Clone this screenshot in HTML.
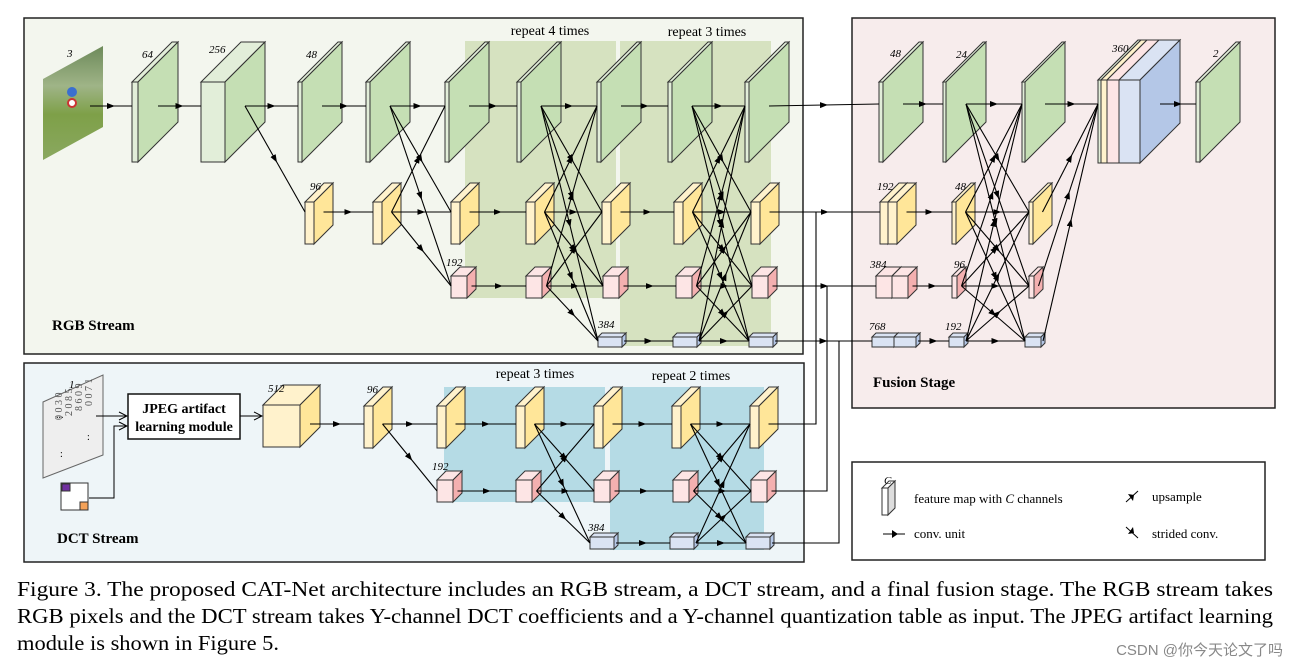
<!DOCTYPE html>
<html><head><meta charset="utf-8"><style>
html,body{margin:0;padding:0;background:#fff;width:1299px;height:669px;overflow:hidden}
svg{display:block}
text{font-family:"Liberation Serif",serif}
.it{font-style:italic;font-size:11px}
.bd{font-weight:bold;font-size:15px}
</style></head><body>
<svg id="s" width="1299" height="669" viewBox="0 0 1299 669" xmlns="http://www.w3.org/2000/svg">
<defs>
<marker id="ar" markerWidth="8" markerHeight="8" refX="4" refY="4" orient="auto" markerUnits="userSpaceOnUse"><path d="M0,1 L8,4 L0,7 z" fill="#000"/></marker>
<marker id="oa" markerWidth="10" markerHeight="10" refX="9" refY="5" orient="auto" markerUnits="userSpaceOnUse"><path d="M1,1 L9,5 L1,9" fill="none" stroke="#000" stroke-width="1"/></marker>
<linearGradient id="img" x1="0" y1="0" x2="0" y2="1"><stop offset="0" stop-color="#6d8a5a"/><stop offset="0.35" stop-color="#9fb487"/><stop offset="0.6" stop-color="#7ea048"/><stop offset="1" stop-color="#8aa860"/></linearGradient>
</defs>
<rect x="24" y="18" width="779" height="336" fill="#f3f6ee" stroke="#222" stroke-width="1.5"/>
<rect x="24" y="363" width="780" height="199" fill="#eef5f8" stroke="#222" stroke-width="1.5"/>
<rect x="852" y="18" width="423" height="390" fill="#f7ecec" stroke="#222" stroke-width="1.5"/>
<rect x="852" y="462" width="413" height="98" fill="#fff" stroke="#222" stroke-width="1.5"/>
<rect x="465" y="41" width="151" height="257" fill="#d6e2c0"/>
<rect x="620" y="41" width="151" height="305" fill="#d6e2c0"/>
<rect x="444" y="387" width="161" height="115" fill="#b5dbe5"/>
<rect x="610" y="387" width="154" height="163" fill="#b5dbe5"/>
<g id="g"></g>
<text x="550" y="35" font-size="14" text-anchor="middle">repeat 4 times</text>
<text x="707" y="36" font-size="14" text-anchor="middle">repeat 3 times</text>
<text x="535" y="378" font-size="14" text-anchor="middle">repeat 3 times</text>
<text x="691" y="380" font-size="14" text-anchor="middle">repeat 2 times</text>
<text x="52" y="330" class="bd">RGB Stream</text>
<text x="57" y="543" class="bd">DCT Stream</text>
<text x="873" y="387" class="bd">Fusion Stage</text>
<polygon points="882,488 889,481 895,481 888,488" fill="#fff" stroke="#333"/>
<polygon points="888,488 895,481 895,508 888,515" fill="#ddd" stroke="#333"/>
<rect x="882" y="488" width="6" height="27" fill="#fff" stroke="#333"/>
<text x="884" y="484" class="it">C</text>
<text x="914" y="503" font-size="13">feature map with <tspan font-style="italic">C</tspan> channels</text>
<line x1="883" y1="534" x2="905" y2="534" stroke="#000"/><path d="M892,530 L898,534 L892,538z"/>
<text x="914" y="538" font-size="13">conv. unit</text>
<line x1="1126" y1="502" x2="1138" y2="491" stroke="#000"/><path d="M1128,494 L1134,495 L1133,501z"/>
<text x="1152" y="501" font-size="13">upsample</text>
<line x1="1126" y1="527" x2="1138" y2="538" stroke="#000"/><path d="M1128,534 L1134,533 L1133,527z"/>
<text x="1152" y="538" font-size="13">strided conv.</text>
<text x="17" y="596" font-size="21" textLength="1256" lengthAdjust="spacingAndGlyphs">Figure 3. The proposed CAT-Net architecture includes an RGB stream, a DCT stream, and a final fusion stage.  The RGB stream takes</text>
<text x="17" y="623" font-size="21" textLength="1256" lengthAdjust="spacingAndGlyphs">RGB pixels and the DCT stream takes Y-channel DCT coefficients and a Y-channel quantization table as input. The JPEG artifact learning</text>
<text x="17" y="650" font-size="21" textLength="262" lengthAdjust="spacingAndGlyphs">module is shown in Figure 5.</text>
<text x="1283" y="655" font-size="15" fill="#888" text-anchor="end" style="font-family:'Liberation Sans','Noto Sans CJK SC',sans-serif">CSDN @你今天论文了吗</text>
</svg>
<script>
var NS="http://www.w3.org/2000/svg",G=document.getElementById("g");
function el(t,a,p){var e=document.createElementNS(NS,t);for(var k in a)e.setAttribute(k,a[k]);(p||G).appendChild(e);return e;}
var C={g:["#e2eed9","#c5dfb4"],y:["#fff2cc","#ffe699"],p:["#fde5e5","#f4b0b0"],b:["#dae3f3","#b4c7e7"]};
var B=el("g",{}),L=el("g",{});
function blk(x,y,w,h,d,c,par){par=par||B;var f=C[c];
 el("polygon",{points:[x,y,x+d,y-d,x+w+d,y-d,x+w,y].join(","),fill:f[0],stroke:"#333","stroke-width":1},par);
 el("polygon",{points:[x+w,y,x+w+d,y-d,x+w+d,y+h-d,x+w,y+h].join(","),fill:f[1],stroke:"#333","stroke-width":1},par);
 el("rect",{x:x,y:y,width:w,height:h,fill:f[0],stroke:"#333","stroke-width":1},par);}
var RY={g:106,y:212,p:286,b:341,dy:424,dp:491,db:543,fg:104};
function N(x,y,w,h,d,c,ry){blk(x,y,w,h,d,c);return {x:x,w:w,d:d,ry:ry};}
var gr=function(x,w){return N(x,82,w||4,80,40,"g",RY.g);};
var ye=function(x,w){return N(x,202,w||9,42,19,"y",RY.y);};
var pk=function(x,w){return N(x,276,w||16,22,9,"p",RY.p);};
var bl=function(x,w){return N(x,337,w||24,10,4,"b",RY.b);};
function line(x1,y1,x2,y2){el("path",{d:"M"+x1+","+y1+" L"+((x1+x2)/2)+","+((y1+y2)/2)+" L"+x2+","+y2,fill:"none",stroke:"#000","stroke-width":1.1,"marker-mid":"url(#ar)"},L);}
function E(a,b){line(a.x+a.w+a.d/2,a.ry,b.x,b.ry);}
function X(A,Bs){A.forEach(function(a){Bs.forEach(function(b){E(a,b);});});}
el("polygon",{points:"43,160 43,79 103,46 103,127",fill:"url(#img)"},B);
el("circle",{cx:72,cy:92,r:5,fill:"#3a6fd0"},B);el("circle",{cx:72,cy:103,r:4,fill:"#fff",stroke:"#c33","stroke-width":2},B);
var img={x:90,w:0,d:0,ry:106};
var G0=gr(132,6),G1=N(201,82,24,80,40,"g",RY.g),G2=gr(298),G3=gr(366),G4=gr(445),G5=gr(517),G6=gr(597),G7=gr(668),G8=gr(745);
var Y0=ye(305),Y1=ye(373),Y2=ye(451),Y3=ye(526),Y4=ye(602),Y5=ye(674),Y6=ye(751);
var P0=pk(451),P1=pk(526),P2=pk(603),P3=pk(676),P4=pk(752);
var B0=bl(598),B1=bl(673),B2=bl(749);
[[img,G0],[G0,G1],[G1,G2],[G1,Y0],[G2,G3],[Y0,Y1],[G4,G5],[Y2,Y3],[P0,P1],[G6,G7],[Y4,Y5],[P2,P3],[B0,B1]].forEach(function(p){E(p[0],p[1]);});
X([G3,Y1],[G4,Y2,P0]);X([G5,Y3,P1],[G6,Y4,P2,B0]);X([G7,Y5,P3,B1],[G8,Y6,P4,B2]);
var F0=N(879,82,4,80,40,"g",RY.fg),F1=N(943,82,3,80,40,"g",RY.fg),F2=N(1022,82,3,80,40,"g",RY.fg);
blk(880,202,8,42,19,"y");var FY0=N(888,202,9,42,19,"y",RY.y);FY0.x=880;FY0.w=17;
var FY1=N(952,202,4,42,19,"y",RY.y),FY2=N(1029,202,4,42,19,"y",RY.y);
blk(876,276,16,22,9,"p");var FP0=N(892,276,16,22,9,"p",RY.p);FP0.x=876;FP0.w=32;
var FP1=N(952,276,5,22,9,"p",RY.p),FP2=N(1029,276,5,22,9,"p",RY.p);
blk(872,337,22,10,4,"b");var FB0=N(894,337,22,10,4,"b",RY.b);FB0.x=872;FB0.w=44;
var FB1=N(949,337,15,10,4,"b",RY.b),FB2=N(1025,337,16,10,4,"b",RY.b);
(function(){var x=1098,y=80,h=83,d=40;
 var parts=[[3,"g"],[6,"y"],[12,"p"],[21,"b"]];
 el("polygon",{points:[x,y,x+d,y-d,x+42+d,y-d,x+42,y].join(","),fill:"#e8edf8",stroke:"#333"},B);
 var cx=x;parts.forEach(function(p){el("polygon",{points:[cx,y,cx+d,y-d,cx+p[0]+d,y-d,cx+p[0],y].join(","),fill:C[p[1]][0],stroke:"#333"},B);cx+=p[0];});
 el("polygon",{points:[x+42,y,x+42+d,y-d,x+42+d,y+h-d,x+42,y+h].join(","),fill:"#b4c7e7",stroke:"#333"},B);
 cx=x;parts.forEach(function(p){el("rect",{x:cx,y:y,width:p[0],height:h,fill:C[p[1]][0],stroke:"#333"},B);cx+=p[0];});})();
var CC={x:1098,w:0,d:0,ry:104},CO={x:1140,w:0,d:40,ry:104};
var F3=N(1196,82,4,80,40,"g",RY.fg);
E(G8,F0);E(Y6,FY0);E(P4,FP0);E(B2,FB0);
E(F0,F1);E(FY0,FY1);E(FP0,FP1);E(FB0,FB1);
X([F1,FY1,FP1,FB1],[F2,FY2,FP2,FB2]);X([F2,FY2,FP2,FB2],[CC]);E(CO,F3);
el("polygon",{points:"43,478 43,402 103,375 103,455",fill:"#eee",stroke:"#666"},B);
var dt=el("text",{x:0,y:0,"font-size":"10",fill:"#555",transform:"translate(62,420) rotate(-90)"},B);dt.textContent="0 0 3 0";
["2 0 8 5","8 6 0 9","0 0 7 1"].forEach(function(s,i){var t=el("text",{x:0,y:0,"font-size":"10",fill:"#555",transform:"translate("+(72+i*10)+","+(416-i*5)+") rotate(-90)"},B);t.textContent=s;});
el("text",{x:56,y:418,"font-size":"10"},B).textContent="...";
el("text",{x:87,y:440,"font-size":"10"},B).textContent=":";
el("text",{x:60,y:457,"font-size":"10"},B).textContent=":";
el("rect",{x:61,y:483,width:27,height:27,fill:"#fff",stroke:"#333"},B);
el("rect",{x:62,y:484,width:8,height:7,fill:"#7030a0",stroke:"#333"},B);
el("rect",{x:80,y:502,width:8,height:8,fill:"#f4a259",stroke:"#333"},B);
el("rect",{x:128,y:394,width:112,height:45,fill:"#fff",stroke:"#111","stroke-width":1.5},B);
var t1=el("text",{x:184,y:413,"font-size":"14","font-weight":"bold","text-anchor":"middle"},B);t1.textContent="JPEG artifact";
var t2=el("text",{x:184,y:431,"font-size":"14","font-weight":"bold","text-anchor":"middle"},B);t2.textContent="learning module";
el("path",{d:"M96,416 L127,416",stroke:"#000",fill:"none","marker-end":"url(#oa)"},L);
el("path",{d:"M89,498 L114,498 L114,426 L127,426",stroke:"#000",fill:"none","marker-end":"url(#oa)"},L);
el("path",{d:"M240,416 L262,416",stroke:"#000",fill:"none","marker-end":"url(#oa)"},L);
var K=N(263,405,37,42,20,"y",RY.dy);
var dy=function(x){return N(x,406,9,42,19,"y",RY.dy);},dp=function(x){return N(x,480,16,22,9,"p",RY.dp);},db=function(x){return N(x,537,24,12,4,"b",RY.db);};
var DY0=dy(364),DY1=dy(437),DY2=dy(516),DY3=dy(594),DY4=dy(672),DY5=dy(750);
var DP0=dp(437),DP1=dp(516),DP2=dp(594),DP3=dp(673),DP4=dp(751);
var DB0=db(590),DB1=db(670),DB2=db(746);
[[K,DY0],[DY0,DY1],[DY0,DP0],[DY1,DY2],[DP0,DP1],[DY3,DY4],[DP2,DP3],[DB0,DB1]].forEach(function(p){E(p[0],p[1]);});
X([DY2,DP1],[DY3,DP2,DB0]);X([DY4,DP3,DB1],[DY5,DP4,DB2]);
[[DY5,816,RY.y],[DP4,827,RY.p],[DB2,839,RY.b]].forEach(function(a){var s=a[0],x0=s.x+s.w+s.d/2;
 el("path",{d:"M"+x0+","+s.ry+" L"+a[1]+","+s.ry+" L"+a[1]+","+a[2]+" L860,"+a[2],fill:"none",stroke:"#000","stroke-width":1.1},L);});
[["3",67,57],["64",142,58],["256",209,53],["48",306,58],["96",310,190],["192",446,266],["384",598,328],
 ["1",69,388],["512",268,392],["96",367,393],["192",432,470],["384",588,531],
 ["48",890,57],["24",956,58],["360",1112,52],["2",1213,57],["192",877,190],["48",955,190],["384",870,268],["96",954,268],["768",869,330],["192",945,330]].forEach(function(l){
 var t=el("text",{x:l[1],y:l[2],"class":"it"});t.textContent=l[0];});
</script>
</body></html>
